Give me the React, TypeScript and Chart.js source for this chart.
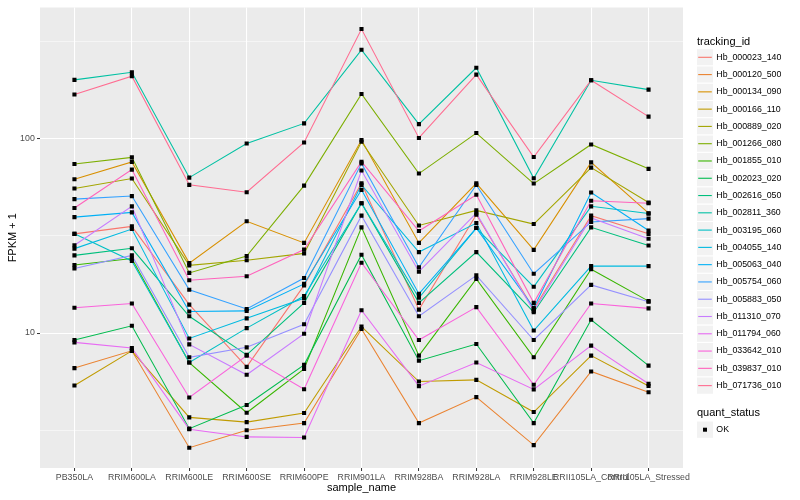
import React, { useEffect, useRef } from "react";
import { Chart, registerables } from "chart.js";

Chart.register(...registerables);

const categories = [
  "PB350LA", "RRIM600LA", "RRIM600LE", "RRIM600SE", "RRIM600PE", "RRIM901LA",
  "RRIM928BA", "RRIM928LA", "RRIM928LE", "RRII105LA_Control", "RRII105LA_Stressed",
];

const trackingIds = [
  "Hb_000023_140", "Hb_000120_500", "Hb_000134_090", "Hb_000166_110", "Hb_000889_020",
  "Hb_001266_080", "Hb_001855_010", "Hb_002023_020", "Hb_002616_050", "Hb_002811_360",
  "Hb_003195_060", "Hb_004055_140", "Hb_005063_040", "Hb_005754_060", "Hb_005883_050",
  "Hb_011310_070", "Hb_011794_060", "Hb_033642_010", "Hb_039837_010", "Hb_071736_010",
];

const seriesColors = [
  "#F8766D", "#EA8331", "#D89000", "#C09B00", "#A3A500", "#7CAE00", "#39B600", "#00BB4E",
  "#00BF7D", "#00C1A3", "#00BFC4", "#00BAE0", "#00B0F6", "#35A2FF", "#9590FF", "#C77CFF",
  "#E76BF3", "#FA62DB", "#FF62BC", "#FF6C91",
];

// FPKM + 1 per sample, in category order
const hb_000023_140 = [32.4, 35.4, 14.0, 6.7, 17.6, 59.0, 13.2, 40.6, 13.3, 40.2, 32.4];
const hb_000120_500 = [6.6, 8.1, 2.57, 3.16, 3.44, 10.5, 3.44, 4.68, 2.65, 6.34, 4.96];
const hb_000134_090 = [61.9, 76.0, 22.9, 37.6, 29.1, 98.5, 29.1, 59.0, 26.8, 75.6, 41.4];
const hb_000166_110 = [5.37, 8.1, 3.68, 3.48, 3.88, 10.8, 5.63, 5.74, 3.92, 7.65, 5.34];
const hb_000889_020 = [55.5, 62.4, 22.3, 23.7, 25.7, 96.5, 35.8, 42.8, 36.4, 71.0, 47.0];
const hb_001266_080 = [74.2, 80.2, 20.4, 24.9, 57.4, 170, 66.2, 107, 58.8, 93.5, 70.0];
const hb_001855_010 = [22.4, 24.2, 7.05, 3.89, 6.54, 35.0, 7.65, 19.0, 7.5, 21.3, 14.6];
const hb_002023_020 = [9.21, 10.9, 3.22, 4.26, 6.86, 25.3, 7.21, 8.78, 3.44, 11.7, 6.8];
const hb_002616_050 = [25.1, 27.3, 12.2, 7.72, 14.3, 46.6, 14.3, 26.1, 12.8, 35.0, 28.2];
const hb_002811_360 = [201, 220, 63.1, 94.6, 120, 287, 119, 232, 62.6, 200, 179];
const hb_003195_060 = [32.4, 23.5, 7.05, 10.6, 15.5, 46.6, 15.2, 34.7, 17.3, 44.9, 41.2];
const hb_004055_140 = [27.2, 34.3, 9.38, 11.9, 15.1, 57.9, 26.1, 36.8, 10.3, 22.1, 22.1];
const hb_005063_040 = [39.5, 41.8, 12.9, 13.0, 17.9, 54.6, 15.9, 34.7, 13.5, 52.9, 33.7];
const hb_005754_060 = [48.9, 50.7, 16.7, 13.3, 19.2, 74.7, 21.8, 57.9, 20.2, 37.3, 38.8];
const hb_005883_050 = [21.5, 25.1, 7.5, 8.44, 11.1, 40.2, 12.2, 19.8, 9.21, 17.7, 14.5];
const hb_011310_070 = [28.3, 44.9, 8.74, 6.1, 9.92, 68.6, 20.7, 41.4, 13.0, 39.1, 30.6];
const hb_011794_060 = [8.95, 8.38, 3.2, 2.92, 2.9, 13.1, 5.33, 7.05, 5.13, 8.61, 5.48];
const hb_033642_010 = [13.5, 14.2, 4.66, 7.65, 5.14, 23.0, 9.21, 13.6, 5.42, 14.2, 13.4];
const hb_039837_010 = [44.0, 69.4, 18.7, 19.6, 26.9, 76.2, 33.5, 51.5, 14.3, 48.0, 46.6];
const hb_071736_010 = [169, 210, 57.9, 53.1, 95.7, 367, 101, 214, 80.6, 200, 130];

const seriesValues = [
  hb_000023_140, hb_000120_500, hb_000134_090, hb_000166_110, hb_000889_020,
  hb_001266_080, hb_001855_010, hb_002023_020, hb_002616_050, hb_002811_360,
  hb_003195_060, hb_004055_140, hb_005063_040, hb_005754_060, hb_005883_050,
  hb_011310_070, hb_011794_060, hb_033642_010, hb_039837_010, hb_071736_010,
];

const yGridValues = [3.1623, 10, 31.623, 100, 316.23];
const yTickLabels = [10, 100];
const quantStatus = ["OK"];

const FONT = "'Liberation Sans', Arial, Helvetica, sans-serif";

const panelBg = {
  id: "panelBg",
  beforeDraw(chart: any) {
    const { ctx, chartArea: a } = chart;
    ctx.save();
    ctx.fillStyle = "#FFFFFF";
    ctx.fillRect(0, 0, chart.width, chart.height);
    ctx.fillStyle = "#EBEBEB";
    ctx.fillRect(a.left, a.top, a.right - a.left, a.bottom - a.top);
    ctx.restore();
  },
};

const ggLegend = {
  id: "ggLegend",
  afterDraw(chart: any) {
    const ctx = chart.ctx as CanvasRenderingContext2D;
    const x0 = 696.5;
    const keyW = 17;
    const keyH = 17.28;
    ctx.save();
    ctx.fillStyle = "#000000";
    ctx.font = `11px ${FONT}`;
    ctx.textAlign = "left";
    ctx.textBaseline = "alphabetic";
    ctx.fillText("tracking_id", 697, 45);
    const firstCenter = 57.3;
    trackingIds.forEach((id, i) => {
      const cy = firstCenter + i * keyH;
      ctx.fillStyle = "#F2F2F2";
      ctx.fillRect(x0, cy - keyH / 2, keyW, keyH);
      ctx.strokeStyle = "#FFFFFF";
      ctx.lineWidth = 1;
      ctx.strokeRect(x0, cy - keyH / 2, keyW, keyH);
      ctx.strokeStyle = seriesColors[i];
      ctx.lineWidth = 1.1;
      ctx.beginPath();
      ctx.moveTo(x0 + 1.7, cy);
      ctx.lineTo(x0 + keyW - 1.7, cy);
      ctx.stroke();
      ctx.fillStyle = "#000000";
      ctx.font = `8.8px ${FONT}`;
      ctx.textBaseline = "middle";
      ctx.fillText(id, 716.3, cy);
    });
    ctx.font = `11px ${FONT}`;
    ctx.textBaseline = "alphabetic";
    ctx.fillStyle = "#000000";
    ctx.fillText("quant_status", 697, 416);
    quantStatus.forEach((s, i) => {
      const cy = 429.7 + i * keyH;
      ctx.fillStyle = "#F2F2F2";
      ctx.fillRect(x0, cy - keyH / 2, keyW, keyH);
      ctx.strokeStyle = "#FFFFFF";
      ctx.lineWidth = 1;
      ctx.strokeRect(x0, cy - keyH / 2, keyW, keyH);
      ctx.fillStyle = "#000000";
      ctx.fillRect(x0 + keyW / 2 - 2, cy - 2, 4, 4);
      ctx.font = `8.8px ${FONT}`;
      ctx.textBaseline = "middle";
      ctx.fillText(s, 716.3, cy);
    });
    ctx.restore();
  },
};

export default function App() {
  const canvasRef = useRef<HTMLCanvasElement | null>(null);

  useEffect(() => {
    if (!canvasRef.current) return;
    const lineSets = seriesValues.map((vals, i) => ({
      label: trackingIds[i],
      data: vals.map((v, j) => ({ x: j, y: v })),
      borderColor: seriesColors[i],
      backgroundColor: seriesColors[i],
      borderWidth: 1.07,
      pointRadius: 0,
      tension: 0,
      fill: false,
      order: 20 - i,
    }));
    const pointSet = {
      label: "quant_status",
      data: seriesValues.flatMap((vals) => vals.map((v, j) => ({ x: j, y: v }))),
      showLine: false,
      pointStyle: "rect",
      pointRadius: 2.9,
      pointBackgroundColor: "#000000",
      pointBorderWidth: 0,
      borderColor: "#000000",
      backgroundColor: "#000000",
      order: -1,
    };

    const chart = new Chart(canvasRef.current, {
      type: "line",
      data: { datasets: [...lineSets, pointSet] as any },
      plugins: [panelBg, ggLegend],
      options: {
        responsive: false,
        animation: false,
        devicePixelRatio: 1,
        layout: { padding: { left: 0, right: 117, top: 5, bottom: 0 } },
        plugins: {
          legend: { display: false },
          tooltip: { enabled: false },
          title: { display: false },
        },
        scales: {
          x: {
            type: "linear",
            min: -0.6,
            max: 10.6,
            bounds: "data",
            afterFit: (scale: any) => {
              scale.height = 32;
            },
            afterBuildTicks: (scale: any) => {
              scale.ticks = categories.map((_, i) => ({ value: i }));
            },
            ticks: {
              autoSkip: false,
              maxRotation: 0,
              minRotation: 0,
              padding: 1.5,
              color: "#4D4D4D",
              font: { family: FONT, size: 8.8 },
              callback: (v: any) => categories[Math.round(Number(v))] ?? "",
            },
            grid: {
              color: "#FFFFFF",
              lineWidth: 1.07,
              drawTicks: true,
              tickLength: 3,
              tickColor: "#333333",
              tickWidth: 1,
            },
            border: { display: false },
            title: {
              display: true,
              text: "sample_name",
              color: "#000000",
              font: { family: FONT, size: 11 },
              padding: { top: 0, bottom: 5.4 },
            },
          },
          y: {
            type: "logarithmic",
            min: 2.02,
            max: 474,
            bounds: "data",
            afterFit: (scale: any) => {
              scale.width = 40;
            },
            afterBuildTicks: (scale: any) => {
              scale.ticks = yGridValues.map((v) => ({ value: v }));
            },
            ticks: {
              autoSkip: false,
              padding: 2.2,
              color: "#4D4D4D",
              font: { family: FONT, size: 8.8 },
              callback: (v: any) => {
                const hit = yTickLabels.find((t) => Math.abs(t - Number(v)) < 1e-6);
                return hit !== undefined ? String(hit) : "";
              },
            },
            grid: {
              color: "#FFFFFF",
              lineWidth: (ctx: any) =>
                yTickLabels.some((t) => Math.abs(t - ctx.tick?.value) < 1e-6) ? 1.07 : 0.53,
              drawTicks: true,
              tickLength: 3,
              tickColor: (ctx: any) =>
                yTickLabels.some((t) => Math.abs(t - ctx.tick?.value) < 1e-6)
                  ? "#333333"
                  : "rgba(0,0,0,0)",
              tickWidth: 1,
            },
            border: { display: false },
            title: {
              display: true,
              text: "FPKM + 1",
              color: "#000000",
              font: { family: FONT, size: 11 },
              padding: { top: 6.2, bottom: 0 },
            },
          },
        },
      } as any,
    });
    return () => chart.destroy();
  }, []);

  return (
    <div style={{ position: "absolute", left: 0, top: 0, width: 800, height: 500, background: "#fff" }}>
      <canvas ref={canvasRef} width={800} height={500} style={{ display: "block" }} />
    </div>
  );
}
